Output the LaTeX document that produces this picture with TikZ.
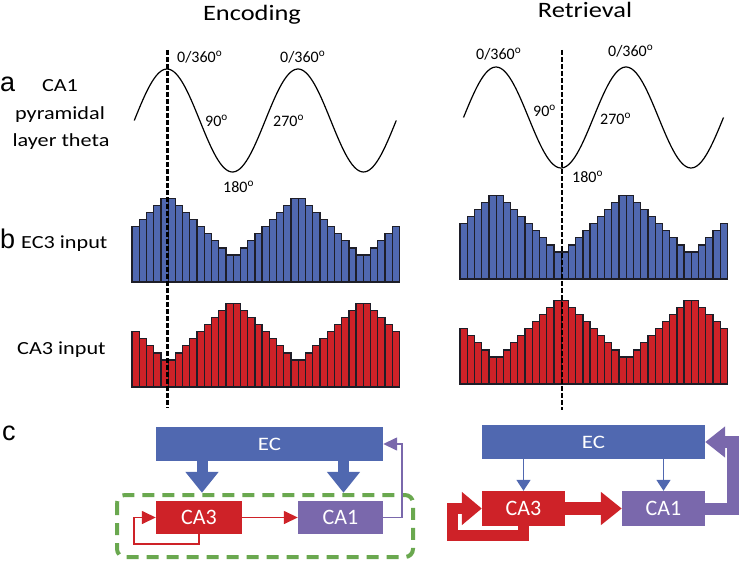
\documentclass[tikz,border=0pt]{standalone}
\usepackage{fontspec}
\setmainfont{Carlito}
\newfontfamily\widefont{Carlito}[FakeStretch=1.2]
\newfontfamily\panelfont{Liberation Sans}
\usetikzlibrary{arrows.meta}
\definecolor{ecblue}{RGB}{80,104,176}
\definecolor{cared}{RGB}{206,34,40}
\definecolor{capurple}{RGB}{122,104,172}
\definecolor{loopgreen}{RGB}{106,168,79}
\definecolor{baredge}{RGB}{30,30,40}
\begin{document}
\begin{tikzpicture}[x=1bp,y=-1bp,
  title/.style={font=\widefont\fontsize{22bp}{26bp}\selectfont,anchor=base,inner sep=0},
  lbl/.style={font=\widefont\fontsize{18.5bp}{22bp}\selectfont,anchor=base,inner sep=0},
  panel/.style={font=\panelfont\fontsize{27bp}{30bp}\selectfont,anchor=base west,inner sep=0},
  deg/.style={font=\fontsize{16bp}{19bp}\selectfont,anchor=base west,inner sep=0},
  ecbar/.style={draw=baredge,fill=ecblue,line width=1.3bp},
  cabar/.style={draw=baredge,fill=cared,line width=1.3bp},
  wave/.style={line width=1.2bp},
  phase/.style={line width=3bp,dash pattern=on 5bp off 2bp},
  region/.style={text=white,inner sep=0,font=\fontsize{22bp}{26bp}\selectfont},
  ecbox/.style={region,fill=ecblue,font=\widefont\fontsize{19bp}{22bp}\selectfont},
  thin/.style={line width=1.5bp,-{Triangle[length=14bp,width=13bp]}},
  fat/.style={-{Triangle[length=21bp,width=32bp]}},
  memory/.style={draw=loopgreen,line width=4bp,dash pattern=on 12bp off 8bp,rounded corners=8bp}]
\useasboundingbox (0,0) rectangle (746,565);

% titles
\node[title] (enc) at (252,21) {Encoding};
\node[title] (ret) at (585,18) {Retrieval};

% row labels
\node[panel] (pa) at (0,92) {a};
\node[lbl] (theta1) at (60,92) {CA1};
\node[lbl] (theta2) at (60,120) {pyramidal};
\node[lbl] (theta3) at (61,147) {layer theta};
\node[panel] (pb) at (0,248) {b};
\node[lbl,anchor=base west] (ec3in) at (21,248) {EC3 input};
\node[lbl,anchor=base west] (ca3in) at (17,354) {CA3 input};
\node[panel] (pc) at (2,440) {c};

% theta waves
\draw[wave] plot[domain=-90:630,samples=120] ({167+\x/360*131},{120.5-51.5*cos(\x)});
\draw[wave] plot[domain=-90:630,samples=120] ({496+\x/360*130},{117.5-50.5*cos(\x)});

\node[deg] (e0a) at (177,63) {0/360\textsuperscript{o}};
\node[deg] (e0b) at (280,63) {0/360\textsuperscript{o}};
\node[deg] (e90) at (205,127) {90\textsuperscript{o}};
\node[deg] (e270) at (273,127) {270\textsuperscript{o}};
\node[deg] (e180) at (223,193) {180\textsuperscript{o}};
\node[deg] (r0a) at (476,60) {0/360\textsuperscript{o}};
\node[deg] (r0b) at (608,57) {0/360\textsuperscript{o}};
\node[deg] (r90) at (533,117) {90\textsuperscript{o}};
\node[deg] (r270) at (600,125) {270\textsuperscript{o}};
\node[deg] (r180) at (572,183) {180\textsuperscript{o}};

% input histograms
\foreach \xo/\yo in {132/282,460/279}
  \foreach \h [count=\i from 0] in {4,5,6,7,8,8,7,6,5,4,3,2,1,0,0,1,2,3,4,5,6,7,8,8,7,6,5,4,3,2,1,0,0,1,2,3,4}
    \draw[ecbar] (\xo+\i*7.23,\yo) rectangle ++(7.23,-27-7.1*\h);
\foreach \xo/\yo in {132/387,460/384}
  \foreach \h [count=\i from 0] in {4,3,2,1,0,0,1,2,3,4,5,6,7,8,8,7,6,5,4,3,2,1,0,0,1,2,3,4,5,6,7,8,8,7,6,5,4}
    \draw[cabar] (\xo+\i*7.23,\yo) rectangle ++(7.23,-27-7.1*\h);

% phase markers
\draw[phase] (167,50) -- (167,408);
\draw[phase,line width=2.3bp] (562,50) -- (562,410);

% circuit, encoding
\draw[memory] (117,495) rectangle (413,557);
\node[ecbox,minimum width=227bp,minimum height=34bp] (ecE) at (269.5,444) {EC};
\node[region,fill=cared,minimum width=86bp,minimum height=33bp] (ca3E) at (199,517.5) {CA3};
\node[region,fill=capurple,minimum width=85bp,minimum height=33bp] (ca1E) at (340.5,517.5) {CA1};
\draw[fat,ecblue,line width=11bp,shorten >=8bp] ([xshift=3bp]ca3E.north |- ecE.south) -- ([xshift=3bp]ca3E.north);
\draw[fat,ecblue,line width=11bp,shorten >=8bp] ([xshift=3bp]ca1E.north |- ecE.south) -- ([xshift=3bp]ca1E.north);
\draw[thin,cared] (ca3E.east) -- (ca1E.west);
\draw[thin,cared] (ca3E.south) |- ++(-65,10) |- (ca3E.west);
\draw[thin,capurple] (ca1E.east) -- ++(19,0) |- (ecE.east);

% circuit, retrieval
\node[ecbox,minimum width=223bp,minimum height=34bp] (ecR) at (593.5,442) {EC};
\node[region,fill=cared,minimum width=83bp,minimum height=35bp] (ca3R) at (523.5,508.5) {CA3};
\node[region,fill=capurple,minimum width=83bp,minimum height=35bp] (ca1R) at (663.5,508.5) {CA1};
\draw[ecblue,line width=1.5bp,-{Triangle[length=11bp,width=14bp]}] (ca3R.north |- ecR.south) -- (ca3R.north);
\draw[ecblue,line width=1.5bp,-{Triangle[length=11bp,width=14bp]}] (ca1R.north |- ecR.south) -- (ca1R.north);
\draw[fat,cared,line width=13bp] (ca3R.east) -- (ca1R.west);
\draw[cared,line width=11bp,-{Triangle[length=20bp,width=32bp]}] (ca3R.south) |- ++(-71,9) |- (ca3R.west);
\draw[capurple,line width=12bp,-{Triangle[length=20bp,width=30bp]}] (ca1R.east) -- ++(28,0) |- (ecR.east);
\end{tikzpicture}
\end{document}
